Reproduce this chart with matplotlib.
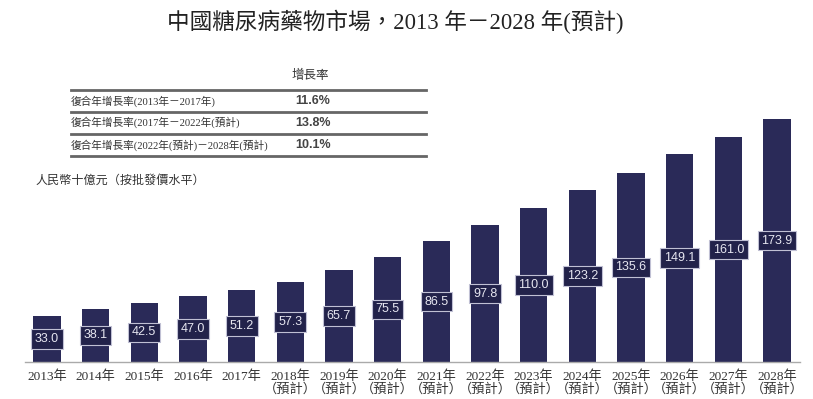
import matplotlib.pyplot as plt
from matplotlib.lines import Line2D

# 年份與市場規模（人民幣十億元）
YEARS = ['2013', '2014', '2015', '2016', '2017', '2018', '2019', '2020',
         '2021', '2022', '2023', '2024', '2025', '2026', '2027', '2028']
FORECAST = [False] * 5 + [True] * 11
VALUES = [33.0, 38.1, 42.5, 47.0, 51.2, 57.3, 65.7, 75.5,
          86.5, 97.8, 110.0, 123.2, 135.6, 149.1, 161.0, 173.9]

# 增長率表格
CAGR_LABELS = ['復合年增長率(2013年－2017年)',
               '復合年增長率(2017年－2022年(預計)',
               '復合年增長率(2022年(預計)－2028年(預計)']
CAGR_VALUES = ['11.6%', '13.8%', '10.1%']

SERIF = ['Liberation Serif', 'Noto Sans CJK TC']
SANS = ['Liberation Sans', 'Noto Sans CJK TC']
BAR_COLOR = '#2a2a58'
TEXT_COLOR = '#333333'

W, H = 813, 399
fig = plt.figure(figsize=(W / 100, H / 100), dpi=100)


def fx(px):
    return px / W


def fy(py):
    return 1 - py / H


# 軸區域：基線在 y=362px，每單位約 1.397px
base_px = 362
scale = 1.397
ymax = 200
ax = fig.add_axes([fx(25), fy(base_px), fx(800) - fx(25), ymax * scale / H])

x = list(range(len(YEARS)))
ax.bar(x, VALUES, width=0.56, color=BAR_COLOR, zorder=2)
for xi, v in zip(x, VALUES):
    ax.text(xi, v / 2, f'{v:.1f}', ha='center', va='center', fontsize=9,
            color='#e6e6f0', family=SANS, zorder=3,
            bbox=dict(boxstyle='square,pad=0.3', facecolor='#22224a',
                      edgecolor='#c0c0d4', linewidth=0.8))

ax.set_xlim(-0.45, 15.47)
ax.set_ylim(0, ymax)
for s in ['top', 'right', 'left']:
    ax.spines[s].set_visible(False)
ax.spines['bottom'].set_color('#aaaaaa')
ax.spines['bottom'].set_linewidth(1.0)
ax.set_yticks([])
ax.set_xticks(x)
ax.set_xticklabels([f'{y}年\n（預計）' if f else f'{y}年'
                    for y, f in zip(YEARS, FORECAST)],
                   family=SERIF, fontsize=9.5, color=TEXT_COLOR, linespacing=1.0)
ax.tick_params(axis='x', length=0, pad=6)

# 標題
fig.text(fx(395), fy(22), '中國糖尿病藥物市場，2013 年－2028 年(預計)',
         ha='center', va='center', fontsize=16.3, family=SERIF, color='#222222')

# 增長率表格
fig.text(fx(310), fy(76), '增長率', ha='center', va='center',
         fontsize=9, family=SERIF, color=TEXT_COLOR)
for py in [89.5, 111.7, 133.5, 156.5]:
    fig.add_artist(Line2D([fx(71), fx(426)], [fy(py), fy(py)],
                          color='#666666', linewidth=2.0))
for py, lab, val in zip([101, 122.5, 145], CAGR_LABELS, CAGR_VALUES):
    fig.text(fx(71), fy(py), lab, ha='left', va='center', fontsize=7.7,
             family=SERIF, color=TEXT_COLOR)
    fig.text(fx(313), fy(py), val, ha='center', va='center', fontsize=9,
             family=SANS, weight='bold', color='#444444')

fig.text(fx(35), fy(181), '人民幣十億元（按批發價水平）', ha='left', va='center',
         fontsize=8.7, family=SERIF, color=TEXT_COLOR)

fig.savefig('out.png', dpi=100)
